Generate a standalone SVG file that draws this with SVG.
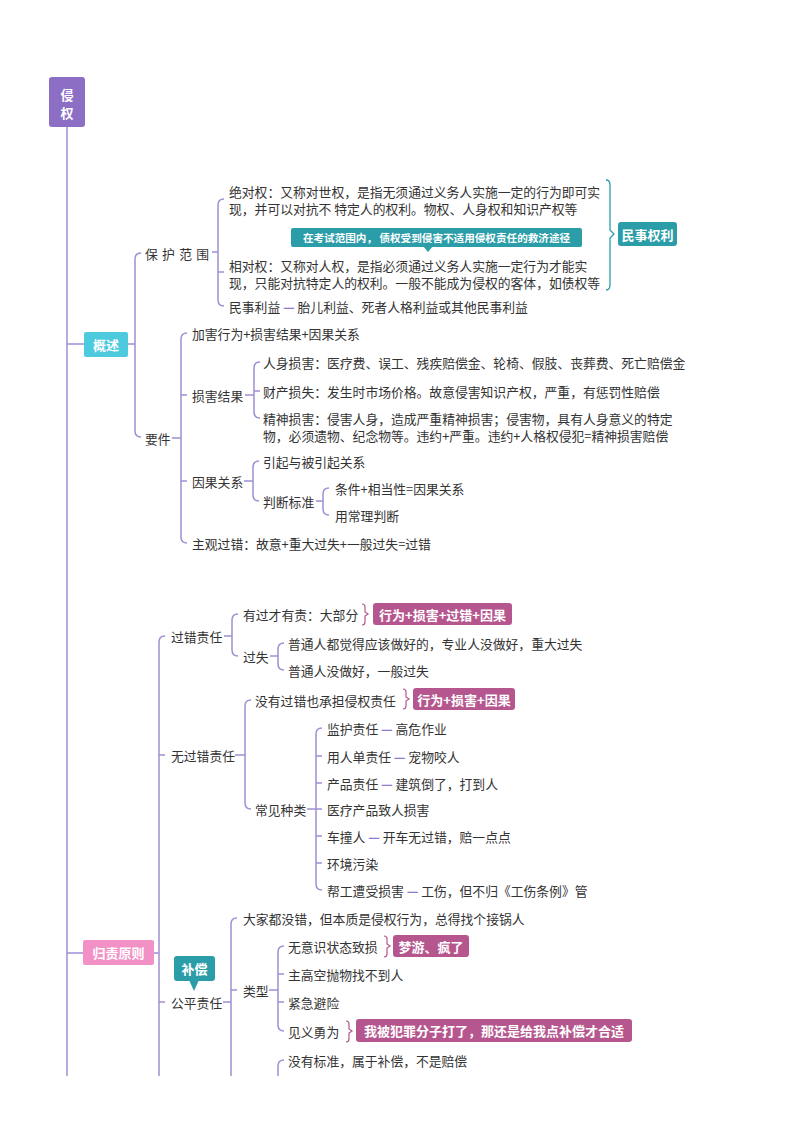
<svg xmlns="http://www.w3.org/2000/svg" width="800" height="1132" viewBox="0 0 800 1132">
<style>
text{font-family:"Noto Sans CJK SC","Noto Sans",sans-serif;dominant-baseline:central}
.t{font-size:12.8px;fill:#333}
.wc{fill:#fff;font-weight:bold;font-size:13px;text-anchor:middle}
.ln{fill:none;stroke:#9f8fd4;stroke-width:1.5}
.br{fill:none;stroke:#b5578e;stroke-width:1.2}
.d{fill:#8c7bd0;font-weight:bold}
.teal{fill:#2b9da8}
.mv{fill:#b5578e}
</style>
<rect width="800" height="1132" fill="#fff"/>
<g id="connectors">
<path class="ln" d="M67 127V1076M67 344H84M67 953H83"/>
<path class="ln" d="M128 344H135M141 253Q135 253 135 259V431Q135 437 141 437"/>
<path class="ln" d="M212 252H218M224 199Q218 199 218 205V300Q218 306 224 306M218 272H224"/>
<path class="ln" d="M172 438H181M187 333Q181 333 181 339V537Q181 543 187 543M181 395H187M181 481H187"/>
<path class="ln" d="M245 395H254M260 362Q254 362 254 368V412Q254 418 260 418M254 391H260"/>
<path class="ln" d="M244 481H253M259 461Q253 461 253 467V495Q253 501 259 501"/>
<path class="ln" d="M316 501H323M329 488Q323 488 323 494V509Q323 515 329 515"/>
<path class="ln" d="M154 953H159M165 636Q159 636 159 642V1076M159 755H165M159 1002H165"/>
<path class="ln" d="M224 636H232M238 614Q232 614 232 620V650Q232 656 238 656"/>
<path class="ln" d="M270 656H278M284 643Q278 643 278 649V664Q278 670 284 670"/>
<path class="ln" d="M235 755H245M251 700Q245 700 245 706V803Q245 809 251 809"/>
<path class="ln" d="M307 809H316M322 728Q316 728 316 734V884Q316 890 322 890M316 756H322M316 783H322M316 809H322M316 836H322M316 863H322"/>
<path class="ln" d="M223 1002H231M237 918Q231 918 231 924V1076M231 990H237"/>
<path class="ln" d="M269 990H278M284 946Q278 946 278 952V1025Q278 1031 284 1031M278 974H284M278 1002H284"/>
<path class="ln" d="M284 1060Q278 1060 278 1066V1076"/>
<path fill="none" stroke="#2b9da8" stroke-width="1.3" d="M606 180Q610 180 610 185V230L614 234L610 238V285Q610 290 606 290"/>
<path class="br" d="M362 604Q365 604 365 607V612L368 614L365 616V622Q365 625 362 625"/>
<path class="br" d="M403 689Q406 689 406 692V697L409 699L406 701V706Q406 709 403 709"/>
<path class="br" d="M384 936Q387 936 387 939V944L390 946L387 948V954Q387 957 384 957"/>
<path class="br" d="M346 1021Q349 1021 349 1024V1029L352 1031L349 1033V1039Q349 1042 346 1042"/>
</g>
<g id="root"><rect x="49" y="77" width="36" height="50" rx="3" fill="#8c6ec4"/><text class="wc" x="67" y="94" font-size="14">侵</text><text class="wc" x="67" y="112" font-size="14">权</text></g>
<g id="gaishu"><rect x="84" y="332" width="44" height="25" rx="2" fill="#4ecadf"/><text class="wc" x="106" y="344.5">概述</text></g>
<g id="baohu"><text class="t" x="145" y="253" letter-spacing="4.3">保护范围</text></g>
<g id="jueduiquan"><text class="t" x="229" y="191">绝对权：又称对世权，是指无须通过义务人实施一定的行为即可实</text><text class="t" x="229" y="208">现，并可以对抗不 特定人的权利。物权、人身权和知识产权等</text></g>
<g id="callout1"><rect x="291" y="228" width="291" height="19" rx="2" class="teal"/><polygon points="423,246 433,246 428,252" class="teal"/><text class="wc" x="436.5" y="237.5" style="font-size:10.6px">在考试范围内， 债权受到侵害不适用侵权责任的救济途径</text></g>
<g id="xiangduiquan"><text class="t" x="229" y="265">相对权：又称对人权，是指必须通过义务人实施一定行为才能实</text><text class="t" x="229" y="282">现，只能对抗特定人的权利。一般不能成为侵权的客体，如债权等</text></g>
<g id="minshiliyi"><text class="t" x="229" y="306">民事利益 <tspan class="d">—</tspan> 胎儿利益、死者人格利益或其他民事利益</text></g>
<g id="minshiquanli"><rect x="618" y="222" width="59" height="24" rx="3" class="teal"/><text class="wc" x="647.5" y="234">民事权利</text></g>
<g id="yaojian"><text class="t" x="145" y="438">要件</text></g>
<g id="jiahai"><text class="t" x="192" y="333">加害行为+损害结果+因果关系</text></g>
<g id="sunhai"><text class="t" x="192" y="395">损害结果</text></g>
<g id="renshen"><text class="t" x="263" y="362">人身损害：医疗费、误工、残疾赔偿金、轮椅、假肢、丧葬费、死亡赔偿金</text></g>
<g id="caichan"><text class="t" x="263" y="391">财产损失：发生时市场价格。故意侵害知识产权，严重，有惩罚性赔偿</text></g>
<g id="jingshen"><text class="t" x="263" y="418">精神损害：侵害人身，造成严重精神损害；侵害物，具有人身意义的特定</text><text class="t" x="263" y="435">物，必须遗物、纪念物等。违约+严重。违约+人格权侵犯=精神损害赔偿</text></g>
<g id="yinguo"><text class="t" x="192" y="481">因果关系</text></g>
<g id="yinqi"><text class="t" x="263" y="461">引起与被引起关系</text></g>
<g id="panduan"><text class="t" x="263" y="501">判断标准</text></g>
<g id="tiaojian"><text class="t" x="335" y="488">条件+相当性=因果关系</text></g>
<g id="changli"><text class="t" x="335" y="515">用常理判断</text></g>
<g id="zhuguan"><text class="t" x="192" y="543">主观过错：故意+重大过失+一般过失=过错</text></g>
<g id="guize"><rect x="83" y="940" width="71" height="25" rx="2" fill="#f291c5"/><text class="wc" x="118.5" y="952.5">归责原则</text></g>
<g id="guocuo"><text class="t" x="171" y="636">过错责任</text></g>
<g id="youguo"><text class="t" x="243" y="614">有过才有责：大部分</text></g>
<g id="box1"><rect x="373" y="603" width="139" height="22" rx="3" class="mv"/><text class="wc" x="442.5" y="614">行为+损害+过错+因果</text></g>
<g id="guoshi"><text class="t" x="243" y="656">过失</text></g>
<g id="zhongda"><text class="t" x="288" y="643">普通人都觉得应该做好的，专业人没做好，重大过失</text></g>
<g id="yiban"><text class="t" x="288" y="670">普通人没做好，一般过失</text></g>
<g id="wuguocuo"><text class="t" x="171" y="755">无过错责任</text></g>
<g id="meiyou"><text class="t" x="255" y="700">没有过错也承担侵权责任</text></g>
<g id="box2"><rect x="413" y="688" width="102" height="22" rx="3" class="mv"/><text class="wc" x="464" y="699">行为+损害+因果</text></g>
<g id="changjian"><text class="t" x="255" y="809">常见种类</text></g>
<g id="jianhu"><text class="t" x="327" y="728">监护责任 <tspan class="d">—</tspan> 高危作业</text></g>
<g id="yongren"><text class="t" x="327" y="756">用人单责任 <tspan class="d">—</tspan> 宠物咬人</text></g>
<g id="chanpin"><text class="t" x="327" y="783">产品责任 <tspan class="d">—</tspan> 建筑倒了，打到人</text></g>
<g id="yiliao"><text class="t" x="327" y="809">医疗产品致人损害</text></g>
<g id="chezhuang"><text class="t" x="327" y="836">车撞人 <tspan class="d">—</tspan> 开车无过错，赔一点点</text></g>
<g id="huanjing"><text class="t" x="327" y="863">环境污染</text></g>
<g id="banggong"><text class="t" x="327" y="890">帮工遭受损害 <tspan class="d">—</tspan> 工伤，但不归《工伤条例》管</text></g>
<g id="gongping"><text class="t" x="171" y="1002">公平责任</text></g>
<g id="buchang"><rect x="174" y="956" width="41" height="25" rx="3" class="teal"/><polygon points="189,980 199,980 194,991" class="teal"/><text class="wc" x="194.5" y="968" font-weight="normal">补偿</text></g>
<g id="dajia"><text class="t" x="243" y="918">大家都没错，但本质是侵权行为，总得找个接锅人</text></g>
<g id="leixing"><text class="t" x="243" y="990">类型</text></g>
<g id="wuyishi"><text class="t" x="288" y="946">无意识状态致损</text></g>
<g id="box3"><rect x="393" y="935" width="76" height="22" rx="3" class="mv"/><text class="wc" x="431" y="946">梦游、疯了</text></g>
<g id="gaokong"><text class="t" x="288" y="974">主高空抛物找不到人</text></g>
<g id="jinji"><text class="t" x="288" y="1002">紧急避险</text></g>
<g id="jianyi"><text class="t" x="288" y="1031">见义勇为</text></g>
<g id="box4"><rect x="356" y="1019" width="276" height="23" rx="3" class="mv"/><text class="wc" x="494" y="1030.5">我被犯罪分子打了，那还是给我点补偿才合适</text></g>
<g id="meiyoubiaozhun"><text class="t" x="288" y="1060">没有标准，属于补偿，不是赔偿</text></g>
</svg>
